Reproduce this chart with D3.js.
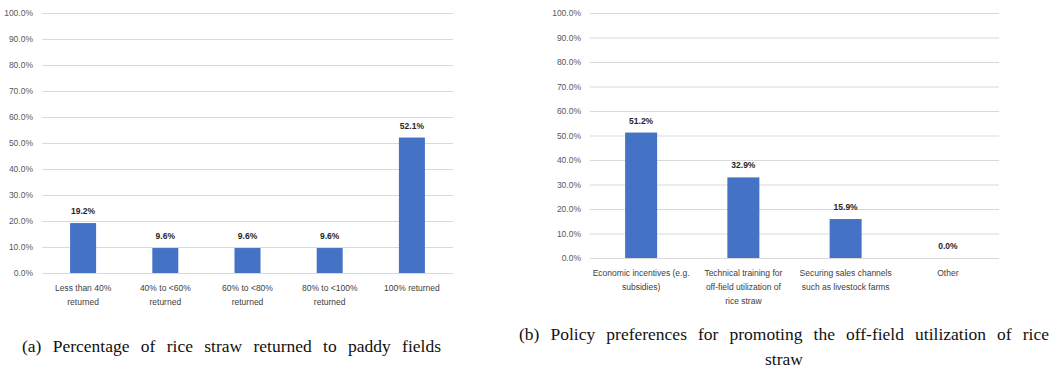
<!DOCTYPE html>
<html><head><meta charset="utf-8">
<script src="https://cdn.jsdelivr.net/npm/d3@7"></script>
<style>
html,body{margin:0;padding:0;background:#fff;}
svg{display:block;}
</style></head>
<body>
<svg id="chart" width="1054" height="374"></svg>
<script>
// ---- data ----
const categoriesA = ["Less than 40%\nreturned", "40% to <60%\nreturned", "60% to <80%\nreturned", "80% to <100%\nreturned", "100% returned"];
const valuesA = [19.2, 9.6, 9.6, 9.6, 52.1];
const categoriesB = ["Economic incentives (e.g.\nsubsidies)", "Technical training for\noff-field utilization of\nrice straw", "Securing sales channels\nsuch as livestock farms", "Other"];
const valuesB = [51.2, 32.9, 15.9, 0.0];
const yTicks = [0, 10, 20, 30, 40, 50, 60, 70, 80, 90, 100];
const captionA = "(a) Percentage of rice straw returned to paddy fields";
const captionB1 = "(b) Policy preferences for promoting the off-field utilization of rice";
const captionB2 = "straw";

const svg = d3.select("#chart");
const BAR = "#4472C4";
const GRID = "#d9d9d9";
const fontSans = "'Liberation Sans', Arial, sans-serif";

function drawChart(cfg) {
  const g = svg.append("g");
  const x = d3.scaleBand().domain(cfg.cats).range([cfg.x0, cfg.x1]).paddingInner(0).paddingOuter(0);
  const y = d3.scaleLinear().domain([0, 100]).range([cfg.y0, cfg.y1]);

  const yAxis = d3.axisLeft(y).tickValues(yTicks).tickSize(-(cfg.x1 - cfg.x0)).tickFormat(d => d.toFixed(1) + "%");
  const ya = g.append("g").attr("transform", `translate(${cfg.x0},0)`).call(yAxis);
  ya.select(".domain").remove();
  ya.selectAll(".tick line").attr("stroke", GRID).attr("stroke-width", 1);
  ya.selectAll(".tick text").attr("x", cfg.tickX - cfg.x0).attr("fill", "#595959")
    .style("font-family", fontSans).style("font-size", "8.5px");

  g.selectAll("rect.bar").data(cfg.vals).enter().append("rect")
    .attr("class", "bar")
    .attr("x", (d, i) => x(cfg.cats[i]) + (x.bandwidth() - cfg.barW) / 2)
    .attr("width", cfg.barW)
    .attr("y", d => y(d))
    .attr("height", d => y(0) - y(d))
    .attr("fill", BAR);

  g.selectAll("text.val").data(cfg.vals).enter().append("text")
    .attr("class", "val")
    .attr("x", (d, i) => x(cfg.cats[i]) + x.bandwidth() / 2)
    .attr("y", d => y(d) - 9)
    .attr("text-anchor", "middle")
    .attr("fill", "#262626")
    .style("font-family", fontSans).style("font-size", "8.5px").style("font-weight", "bold")
    .text(d => d.toFixed(1) + "%");

  const xAxis = d3.axisBottom(x).tickSize(0).tickFormat("");
  const xa = g.append("g").attr("transform", `translate(0,${cfg.y0})`).call(xAxis);
  xa.select(".domain").remove();
  xa.selectAll(".tick").each(function(d) {
    const lines = d.split("\n");
    const t = d3.select(this).append("text")
      .attr("text-anchor", "middle").attr("fill", "#404040")
      .style("font-family", fontSans).style("font-size", "8.5px");
    lines.forEach((ln, k) => {
      t.append("tspan").attr("x", 0).attr("y", 18 + k * 14).text(ln);
    });
  });
}

drawChart({cats: categoriesA, vals: valuesA, x0: 42, x1: 453, y0: 273, y1: 13, tickX: 33, barW: 26});
drawChart({cats: categoriesB, vals: valuesB, x0: 590, x1: 999, y0: 258, y1: 13, tickX: 581, barW: 32});

// captions (justified by word spacing)
const fontSerif = "'Liberation Serif', 'Times New Roman', serif";
function caption(txt, x, y, targetW) {
  const t = svg.append("text").attr("x", x).attr("y", y).attr("fill", "#111")
    .style("font-family", fontSerif).style("font-size", "17.5px").text(txt);
  if (targetW) {
    const nat = t.node().getComputedTextLength();
    const spaces = (txt.match(/ /g) || []).length;
    t.style("word-spacing", ((targetW - nat) / spaces) + "px");
  }
  return t;
}
caption(captionA, 22, 352, 419);
caption(captionB1, 519, 340, 530);
caption(captionB2, 784, 365).attr("text-anchor", "middle");
</script>
</body></html>
